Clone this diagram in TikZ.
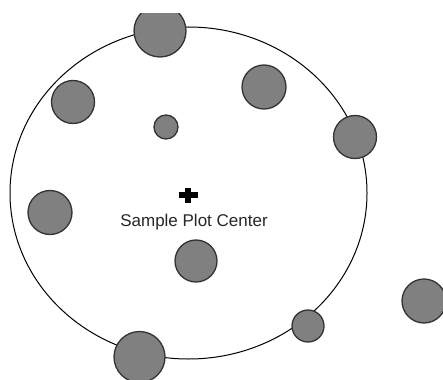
\documentclass[tikz,border=0pt]{standalone}
\usepackage{fontspec}
\setmainfont{Liberation Sans}
\definecolor{treefill}{HTML}{808080}
\definecolor{treeline}{HTML}{333333}
\begin{document}
\begin{tikzpicture}[x=1pt,y=-1pt,
  tree/.style={circle,draw=treeline,fill=treefill,line width=1.3pt,inner sep=0pt},
  plotline/.style={draw=black,line width=1pt},
  crossbar/.style={line width=6pt,black},
  label/.style={font=\fontsize{17}{20}\selectfont,text=black!85,anchor=base,inner sep=0pt}]
\useasboundingbox[fill=white] (0,0) rectangle (443,379);
\begin{scope}
\clip (0,14) rectangle (443,379);
% plot boundary
\draw[plotline] (188.5,193) ellipse [x radius=178.5, y radius=166];
% trees
\node[tree,minimum size=52pt] (t1) at (160,31) {};
\node[tree,minimum size=43pt] (t2) at (73,102) {};
\node[tree,minimum size=24pt] (t3) at (166,127) {};
\node[tree,minimum size=44pt] (t4) at (264,87) {};
\node[tree,minimum size=43pt] (t5) at (355,137) {};
\node[tree,minimum size=44pt] (t6) at (50,212.5) {};
\node[tree,minimum size=42pt] (t7) at (196,261) {};
\node[tree,minimum size=32pt] (t8) at (308,326) {};
\node[tree,minimum size=51pt] (t9) at (139.5,357) {};
\node[tree,minimum size=44pt] (t10) at (424,301) {};
\end{scope}
% plot center
\coordinate (c) at (188,195);
\draw[crossbar] ([xshift=-9.5pt]c) -- ([xshift=9.5pt]c);
\draw[crossbar] ([yshift=7.5pt]c) -- ([yshift=-7.5pt]c);
\node[label] (lbl) at (194,226.5) {Sample Plot Center};
\end{tikzpicture}
\end{document}
